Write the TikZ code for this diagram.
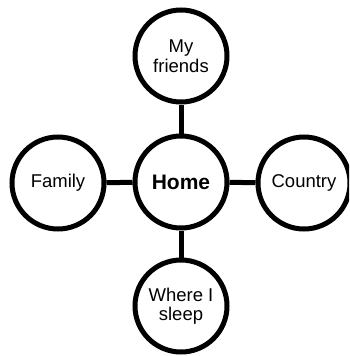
\documentclass[tikz,border=0pt]{standalone}
\usepackage{fontspec}
\setmainfont{Liberation Sans}
\begin{document}
\begin{tikzpicture}[x=1pt,y=-1pt,
  bubble/.style={circle,draw=black,line width=5pt,fill=white,minimum size=92pt,inner sep=0pt,align=center,font=\fontsize{18.5}{19.5}\selectfont},
  hub/.style={bubble,font=\fontsize{21}{22}\selectfont\bfseries},
  link/.style={line width=5pt,draw=black}]
\clip (0,0) rectangle (349,356);
\useasboundingbox (0,0) rectangle (349,356);
\node[hub] (home) at (181,182) {Home};
\node[bubble] (friends) at (181,56) {My\\friends};
\node[bubble] (family) at (58,183) {Family};
\node[bubble] (country) at (304,183) {Country};
\node[bubble] (sleep) at (181,306) {Where I\\sleep};
\draw[link] (home) -- (friends);
\draw[link] (home) -- (family);
\draw[link] (home) -- (country);
\draw[link] (home) -- (sleep);
\end{tikzpicture}
\end{document}
